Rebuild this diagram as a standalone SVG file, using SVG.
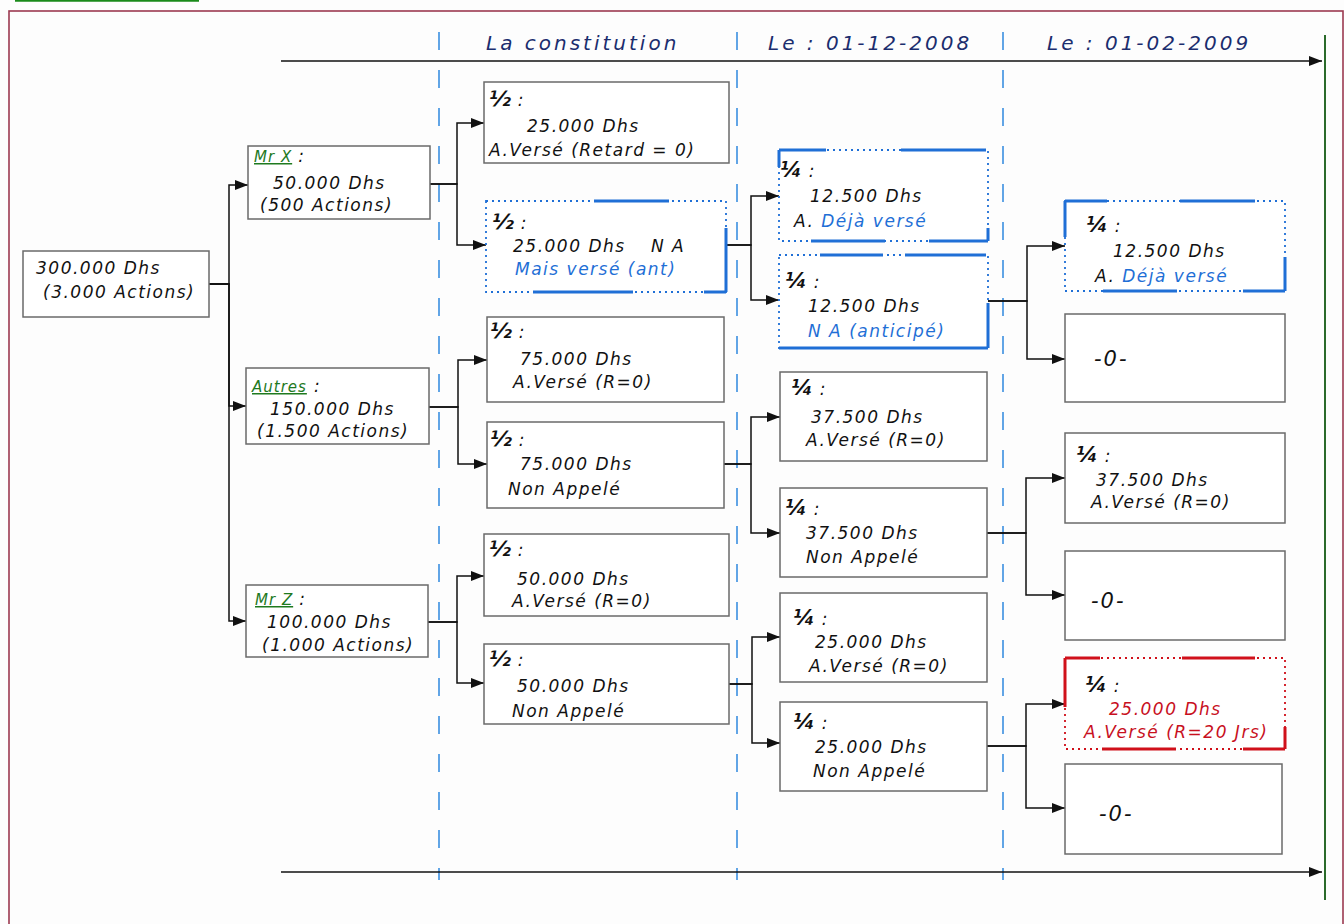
<svg xmlns="http://www.w3.org/2000/svg" width="1344" height="924" viewBox="0 0 1344 924">
  <defs>
    <marker id="arr" markerUnits="userSpaceOnUse" markerWidth="14" markerHeight="11" refX="13" refY="5.5" orient="auto">
      <path d="M0,0.5 L13,5.5 L0,10.5 z" fill="#111"/>
    </marker>
    <style>
      .frame { fill: none; stroke: #9c3a50; stroke-width: 1.6; }
      .sep { fill: none; stroke: #3b8fe0; stroke-width: 1.6; stroke-dasharray: 18 20; }
      .box { fill: #fff; stroke: #6a6a6a; stroke-width: 1.5; }
      .dot { fill: #fff; stroke-width: 1.8; stroke-dasharray: 2 4; }
      .solid { fill: none; stroke-width: 3; }
      .blue-b { stroke: #1f6fd6; }
      .red-b { stroke: #d0101a; }
      .link { fill: none; stroke: #111; stroke-width: 1.5; marker-end: url(#arr); }
      text { font-family: "DejaVu Sans", "Liberation Sans", sans-serif; font-style: italic; font-size: 17px; letter-spacing: 1.5px; fill: #111; }
      .hd { font-size: 20px; letter-spacing: 3px; fill: #1b2d6e; }
      .g { fill: #1f7a1f; text-decoration: underline; font-size: 15px; letter-spacing: 1px; }
      .bl { fill: #1f6fd6; }
      .rd { fill: #c8101e; }
      .fr { font-size: 21px; font-weight: bold; letter-spacing: 0; }
      .z { font-size: 21px; letter-spacing: 2px; }
    </style>
  </defs>

  <rect width="1344" height="924" fill="#fdfdfd"/>
  <!-- page frame and title rule -->
  <line x1="15" y1="0.8" x2="199" y2="0.8" stroke="#1a8a1a" stroke-width="2"/>
  <rect class="frame" x="9" y="11" width="1334" height="930"/>
  <line x1="1325" y1="35" x2="1325" y2="900" stroke="#2a6a2a" stroke-width="2"/>

  <!-- period separators and headers -->
  <g id="periods">
    <line class="sep" x1="439" y1="32" x2="439" y2="880"/>
    <line class="sep" x1="737" y1="32" x2="737" y2="880"/>
    <line class="sep" x1="1003" y1="32" x2="1003" y2="880"/>
    <text class="hd" x="486" y="50">La constitution</text>
    <text class="hd" x="768" y="50">Le : 01-12-2008</text>
    <text class="hd" x="1047" y="50">Le : 01-02-2009</text>
  </g>

  <!-- connectors -->
  <g id="connectors">
    <path class="link" d="M281,61 H1322"/>
    <path class="link" d="M281,872 H1322"/>
    <path class="link" d="M209,284 H229 V185 H248"/>
    <path class="link" d="M209,284 H229 V406 H246"/>
    <path class="link" d="M209,284 H229 V621 H246"/>
    <path class="link" d="M430,184 H457 V123 H484"/>
    <path class="link" d="M430,184 H457 V245 H486"/>
    <path class="link" d="M726,245 H751 V196 H779"/>
    <path class="link" d="M726,245 H751 V300 H779"/>
    <path class="link" d="M988,301 H1027 V246 H1065"/>
    <path class="link" d="M988,301 H1027 V359 H1065"/>
    <path class="link" d="M429,407 H458 V360 H487"/>
    <path class="link" d="M429,407 H458 V464 H487"/>
    <path class="link" d="M724,464 H751 V417 H780"/>
    <path class="link" d="M724,464 H751 V533 H780"/>
    <path class="link" d="M987,533 H1026 V478 H1065"/>
    <path class="link" d="M987,533 H1026 V595 H1065"/>
    <path class="link" d="M428,622 H457 V576 H484"/>
    <path class="link" d="M428,622 H457 V683 H484"/>
    <path class="link" d="M729,684 H752 V637 H780"/>
    <path class="link" d="M729,684 H752 V743 H780"/>
    <path class="link" d="M987,746 H1026 V704 H1065"/>
    <path class="link" d="M987,746 H1026 V808 H1065"/>
  </g>

  <!-- capital -->
  <g id="capital">
    <rect class="box" x="23" y="251" width="186" height="66"/>
    <text x="36" y="274">300.000 Dhs</text>
    <text x="43" y="298">(3.000 Actions)</text>
  </g>

  <!-- shareholders -->
  <g id="mr-x">
    <rect class="box" x="248" y="146" width="182" height="73"/>
    <text x="254" y="162"><tspan class="g">Mr X</tspan><tspan dx="6">:</tspan></text>
    <text x="273" y="189">50.000 Dhs</text>
    <text x="260" y="211">(500 Actions)</text>
  </g>
  <g id="autres">
    <rect class="box" x="246" y="368" width="183" height="76"/>
    <text x="252" y="392"><tspan class="g">Autres</tspan><tspan dx="7">:</tspan></text>
    <text x="270" y="415">150.000 Dhs</text>
    <text x="257" y="437">(1.500 Actions)</text>
  </g>
  <g id="mr-z">
    <rect class="box" x="246" y="585" width="182" height="72"/>
    <text x="255" y="605"><tspan class="g">Mr Z</tspan><tspan dx="6">:</tspan></text>
    <text x="267" y="628">100.000 Dhs</text>
    <text x="262" y="651">(1.000 Actions)</text>
  </g>

  <!-- halves at constitution -->
  <g id="x-half-1">
    <rect class="box" x="484" y="82" width="245" height="81"/>
    <text x="489" y="106"><tspan class="fr">½</tspan> :</text>
    <text x="527" y="132">25.000 Dhs</text>
    <text x="489" y="156">A.Versé (Retard = 0)</text>
  </g>
  <g id="x-half-2">
    <rect class="dot blue-b" x="486" y="201" width="240" height="91"/>
    <path class="solid blue-b" d="M594,201 H669 M726,228 V292 M533,292 H633 M704,292 H726"/>
    <text x="492" y="229"><tspan class="fr">½</tspan> :</text>
    <text x="513" y="252">25.000 Dhs</text>
    <text x="651" y="252">N A</text>
    <text class="bl" x="515" y="275">Mais versé (ant)</text>
  </g>
  <g id="autres-half-1">
    <rect class="box" x="487" y="317" width="237" height="85"/>
    <text x="490" y="338"><tspan class="fr">½</tspan> :</text>
    <text x="520" y="365">75.000 Dhs</text>
    <text x="513" y="388">A.Versé (R=0)</text>
  </g>
  <g id="autres-half-2">
    <rect class="box" x="487" y="422" width="237" height="86"/>
    <text x="490" y="446"><tspan class="fr">½</tspan> :</text>
    <text x="520" y="470">75.000 Dhs</text>
    <text x="508" y="495">Non Appelé</text>
  </g>
  <g id="z-half-1">
    <rect class="box" x="484" y="534" width="245" height="82"/>
    <text x="489" y="556"><tspan class="fr">½</tspan> :</text>
    <text x="517" y="585">50.000 Dhs</text>
    <text x="512" y="607">A.Versé (R=0)</text>
  </g>
  <g id="z-half-2">
    <rect class="box" x="484" y="644" width="245" height="80"/>
    <text x="489" y="666"><tspan class="fr">½</tspan> :</text>
    <text x="517" y="692">50.000 Dhs</text>
    <text x="512" y="717">Non Appelé</text>
  </g>

  <!-- quarters called on 01-12-2008 -->
  <g id="x-q1">
    <rect class="dot blue-b" x="779" y="150" width="209" height="91"/>
    <path class="solid blue-b" d="M779,150 V167 M779,150 H826 M901,150 H986 M988,228 V241 M811,241 H885 M929,241 H988"/>
    <text x="780" y="177"><tspan class="fr">¼</tspan> :</text>
    <text x="810" y="202">12.500 Dhs</text>
    <text x="794" y="227">A. <tspan class="bl">Déjà versé</tspan></text>
  </g>
  <g id="x-q2">
    <rect class="dot blue-b" x="779" y="255" width="209" height="93"/>
    <path class="solid blue-b" d="M820,255 H883 M905,255 H986 M988,303 V348 M779,348 H988"/>
    <text x="785" y="288"><tspan class="fr">¼</tspan> :</text>
    <text x="808" y="312">12.500 Dhs</text>
    <text class="bl" x="808" y="337">N A (anticipé)</text>
  </g>
  <g id="autres-q1">
    <rect class="box" x="780" y="372" width="207" height="89"/>
    <text x="791" y="395"><tspan class="fr">¼</tspan> :</text>
    <text x="811" y="423">37.500 Dhs</text>
    <text x="806" y="446">A.Versé (R=0)</text>
  </g>
  <g id="autres-q2">
    <rect class="box" x="780" y="488" width="207" height="89"/>
    <text x="785" y="515"><tspan class="fr">¼</tspan> :</text>
    <text x="806" y="539">37.500 Dhs</text>
    <text x="806" y="563">Non Appelé</text>
  </g>
  <g id="z-q1">
    <rect class="box" x="780" y="593" width="207" height="89"/>
    <text x="793" y="625"><tspan class="fr">¼</tspan> :</text>
    <text x="815" y="648">25.000 Dhs</text>
    <text x="809" y="672">A.Versé (R=0)</text>
  </g>
  <g id="z-q2">
    <rect class="box" x="780" y="702" width="207" height="89"/>
    <text x="793" y="729"><tspan class="fr">¼</tspan> :</text>
    <text x="815" y="753">25.000 Dhs</text>
    <text x="813" y="777">Non Appelé</text>
  </g>

  <!-- last quarters called on 01-02-2009 -->
  <g id="x-last">
    <rect class="dot blue-b" x="1065" y="201" width="220" height="90"/>
    <path class="solid blue-b" d="M1065,201 V237 M1065,201 H1107 M1180,201 H1255 M1285,257 V291 M1103,291 H1177 M1243,291 H1285"/>
    <text x="1086" y="232"><tspan class="fr">¼</tspan> :</text>
    <text x="1113" y="257">12.500 Dhs</text>
    <text x="1095" y="282">A. <tspan class="bl">Déjà versé</tspan></text>
  </g>
  <g id="x-zero">
    <rect class="box" x="1065" y="314" width="220" height="88"/>
    <text class="z" x="1094" y="366">-0-</text>
  </g>
  <g id="autres-last">
    <rect class="box" x="1065" y="433" width="220" height="90"/>
    <text x="1076" y="462"><tspan class="fr">¼</tspan> :</text>
    <text x="1096" y="486">37.500 Dhs</text>
    <text x="1091" y="508">A.Versé (R=0)</text>
  </g>
  <g id="autres-zero">
    <rect class="box" x="1065" y="551" width="220" height="89"/>
    <text class="z" x="1091" y="608">-0-</text>
  </g>
  <g id="z-last">
    <rect class="dot red-b" x="1065" y="658" width="220" height="91"/>
    <path class="solid red-b" d="M1065,658 V707 M1065,658 H1100 M1182,658 H1255 M1285,727 V749 M1102,749 H1176 M1243,749 H1285"/>
    <text x="1085" y="692"><tspan class="fr">¼</tspan> :</text>
    <text class="rd" x="1109" y="715">25.000 Dhs</text>
    <text class="rd" x="1084" y="738">A.Versé (R=20 Jrs)</text>
  </g>
  <g id="z-zero">
    <rect class="box" x="1065" y="764" width="217" height="90"/>
    <text class="z" x="1099" y="821">-0-</text>
  </g>
</svg>
